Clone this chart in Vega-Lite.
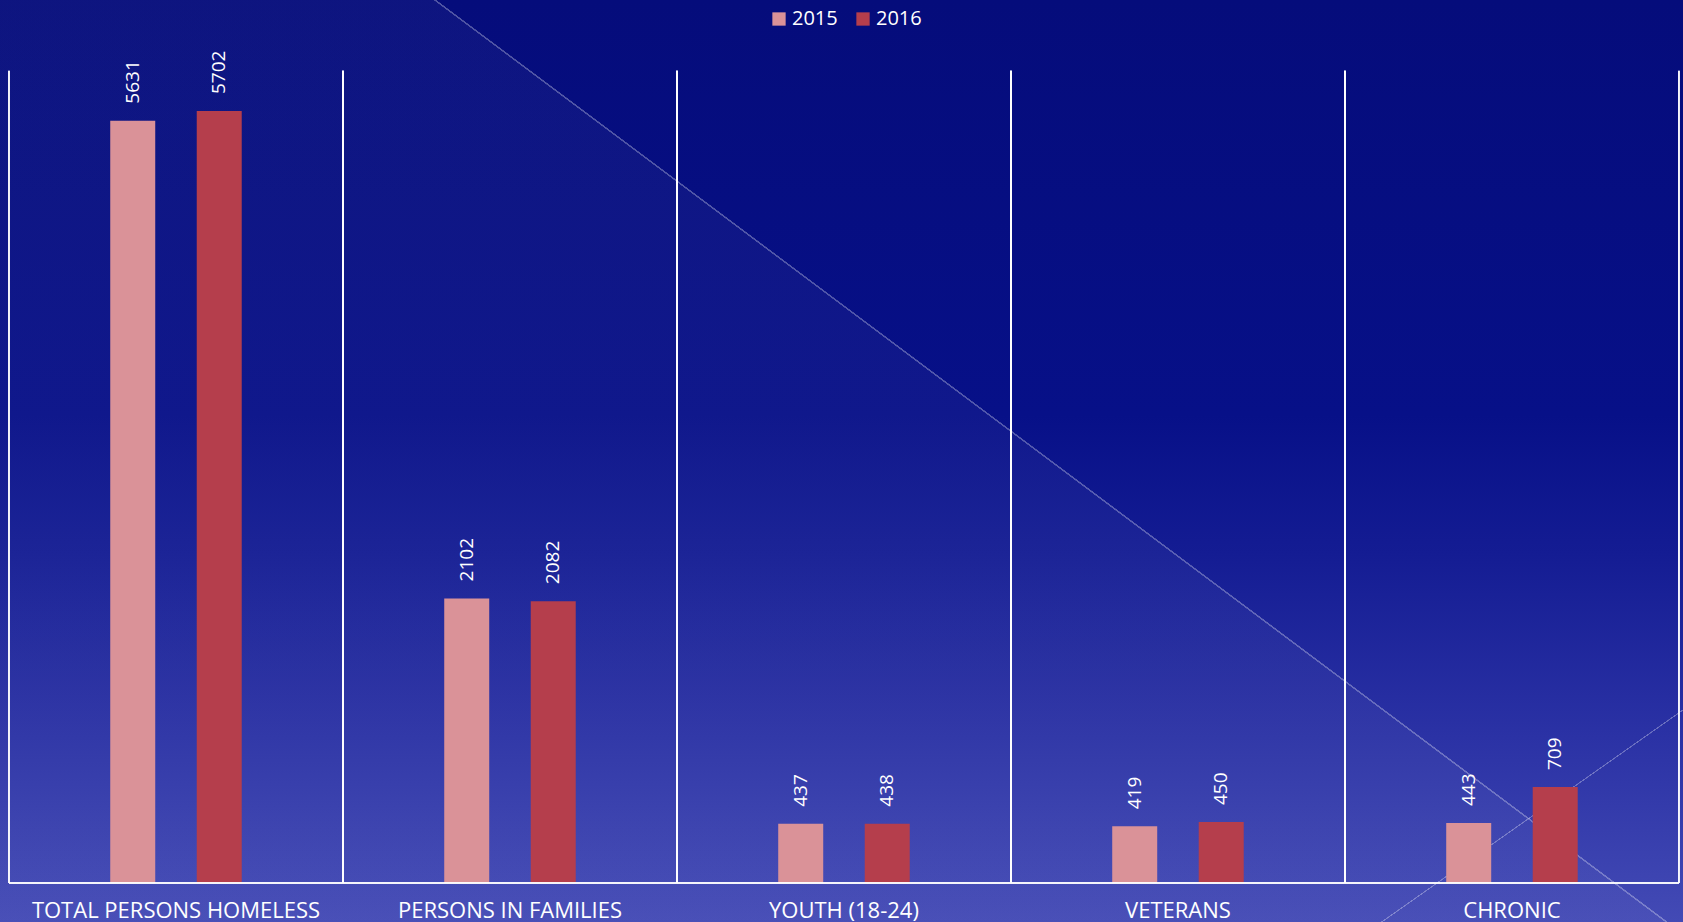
{
  "$schema": "https://vega.github.io/schema/vega-lite/v6.json",
  "width": 1683,
  "height": 922,
  "autosize": {"type": "none"},
  "padding": 0,
  "background": "#060c7c",
  "config": {
    "view": {
      "stroke": null,
      "fill": {
        "gradient": "linear", "x1": 0, "y1": 0, "x2": 0, "y2": 1,
        "stops": [
          {"offset": 0, "color": "#050c7b"},
          {"offset": 0.45, "color": "#071088"},
          {"offset": 0.6, "color": "#141c93"},
          {"offset": 0.8, "color": "#2b32a5"},
          {"offset": 1, "color": "#434ab5"}
        ]
      }
    },
    "font": "Open Sans"
  },
  "data": {
    "values": [
      {"category": "TOTAL PERSONS HOMELESS", "year": "2015", "value": 5631},
      {"category": "TOTAL PERSONS HOMELESS", "year": "2016", "value": 5702},
      {"category": "PERSONS IN FAMILIES", "year": "2015", "value": 2102},
      {"category": "PERSONS IN FAMILIES", "year": "2016", "value": 2082},
      {"category": "YOUTH (18-24)", "year": "2015", "value": 437},
      {"category": "YOUTH (18-24)", "year": "2016", "value": 438},
      {"category": "VETERANS", "year": "2015", "value": 419},
      {"category": "VETERANS", "year": "2016", "value": 450},
      {"category": "CHRONIC", "year": "2015", "value": 443},
      {"category": "CHRONIC", "year": "2016", "value": 709}
    ]
  },
  "layer": [
    {
      "data": {"values": [{"decor": "tint"}]},
      "mark": {
        "type": "rect",
        "fill": {
          "gradient": "linear", "x1": 0, "y1": 0, "x2": 1, "y2": -0.7318,
          "stops": [
            {"offset": 0, "color": "rgba(255,255,255,0.035)"},
            {"offset": 0.1677, "color": "rgba(255,255,255,0.035)"},
            {"offset": 0.1679, "color": "rgba(255,255,255,0.3)"},
            {"offset": 0.1687, "color": "rgba(255,255,255,0.3)"},
            {"offset": 0.1689, "color": "rgba(255,255,255,0)"},
            {"offset": 1, "color": "rgba(255,255,255,0)"}
          ]
        }
      },
      "encoding": {}
    },
    {
      "data": {"values": [{"decor": "line"}]},
      "mark": {
        "type": "rect",
        "fill": {
          "gradient": "linear", "x1": 0, "y1": 0, "x2": 1, "y2": 0.7787,
          "stops": [
            {"offset": 0, "color": "rgba(255,255,255,0)"},
            {"offset": 0.9954, "color": "rgba(255,255,255,0)"},
            {"offset": 0.9955, "color": "rgba(255,255,255,0.3)"},
            {"offset": 0.9961, "color": "rgba(255,255,255,0.3)"},
            {"offset": 0.9962, "color": "rgba(255,255,255,0)"},
            {"offset": 1, "color": "rgba(255,255,255,0)"}
          ]
        }
      },
      "encoding": {}
    },
    {
      "mark": {"type": "bar", "width": 45},
      "encoding": {
        "x": {
          "field": "category",
          "type": "nominal",
          "sort": null,
          "scale": {
            "domain": ["TOTAL PERSONS HOMELESS", "PERSONS IN FAMILIES", "YOUTH (18-24)", "VETERANS", "CHRONIC"],
            "paddingInner": 0,
            "paddingOuter": 0.0195,
            "align": 0.69
          },
          "axis": {
            "orient": "bottom",
            "offset": -39,
            "domain": false,
            "ticks": false,
            "grid": false,
            "title": null,
            "labelAngle": 0,
            "labelPadding": 17,
            "labelColor": "white",
            "labelFontSize": 22,
            "labelLimit": 400
          }
        },
        "xOffset": {
          "field": "year",
          "type": "nominal",
          "scale": {"paddingInner": 0.139, "paddingOuter": 1}
        },
        "y": {
          "field": "value",
          "type": "quantitative",
          "scale": {"domain": [-288, 6522], "nice": false, "zero": false},
          "axis": null
        },
        "color": {
          "field": "year",
          "type": "nominal",
          "scale": {"domain": ["2015", "2016"], "range": ["#DA9298", "#B53E4C"]},
          "legend": {
            "orient": "none",
            "legendX": 769,
            "legendY": 9,
            "direction": "horizontal",
            "title": null,
            "symbolType": "square",
            "symbolSize": 177,
            "symbolStrokeWidth": 0,
            "labelFontSize": 20,
            "labelColor": "white",
            "labelOffset": 3,
            "columnPadding": 15
          }
        }
      }
    },
    {
      "mark": {"type": "rule", "color": "white", "strokeWidth": 1.5},
      "encoding": {
        "x": {"field": "category", "type": "nominal", "sort": null, "bandPosition": 0},
        "y": {"datum": 0, "axis": null},
        "y2": {"datum": 6000}
      }
    },
    {
      "mark": {"type": "rule", "color": "white", "strokeWidth": 1.5},
      "encoding": {
        "x": {"field": "category", "type": "nominal", "sort": null, "bandPosition": 1},
        "y": {"datum": 0, "axis": null},
        "y2": {"datum": 6000}
      }
    },
    {
      "mark": {"type": "rect", "fillOpacity": 0, "stroke": "white", "strokeWidth": 1.5},
      "encoding": {
        "x": {"field": "category", "type": "nominal", "sort": null},
        "y": {"datum": 0, "axis": null},
        "y2": {"datum": 0}
      }
    },
    {
      "mark": {"type": "text", "angle": 270, "align": "left", "baseline": "middle", "dx": 17, "fontSize": 19, "color": "white"},
      "encoding": {
        "x": {"field": "category", "type": "nominal", "sort": null},
        "xOffset": {"field": "year", "type": "nominal"},
        "y": {"field": "value", "type": "quantitative", "axis": null},
        "text": {"field": "value", "type": "quantitative"}
      }
    }
  ]
}
